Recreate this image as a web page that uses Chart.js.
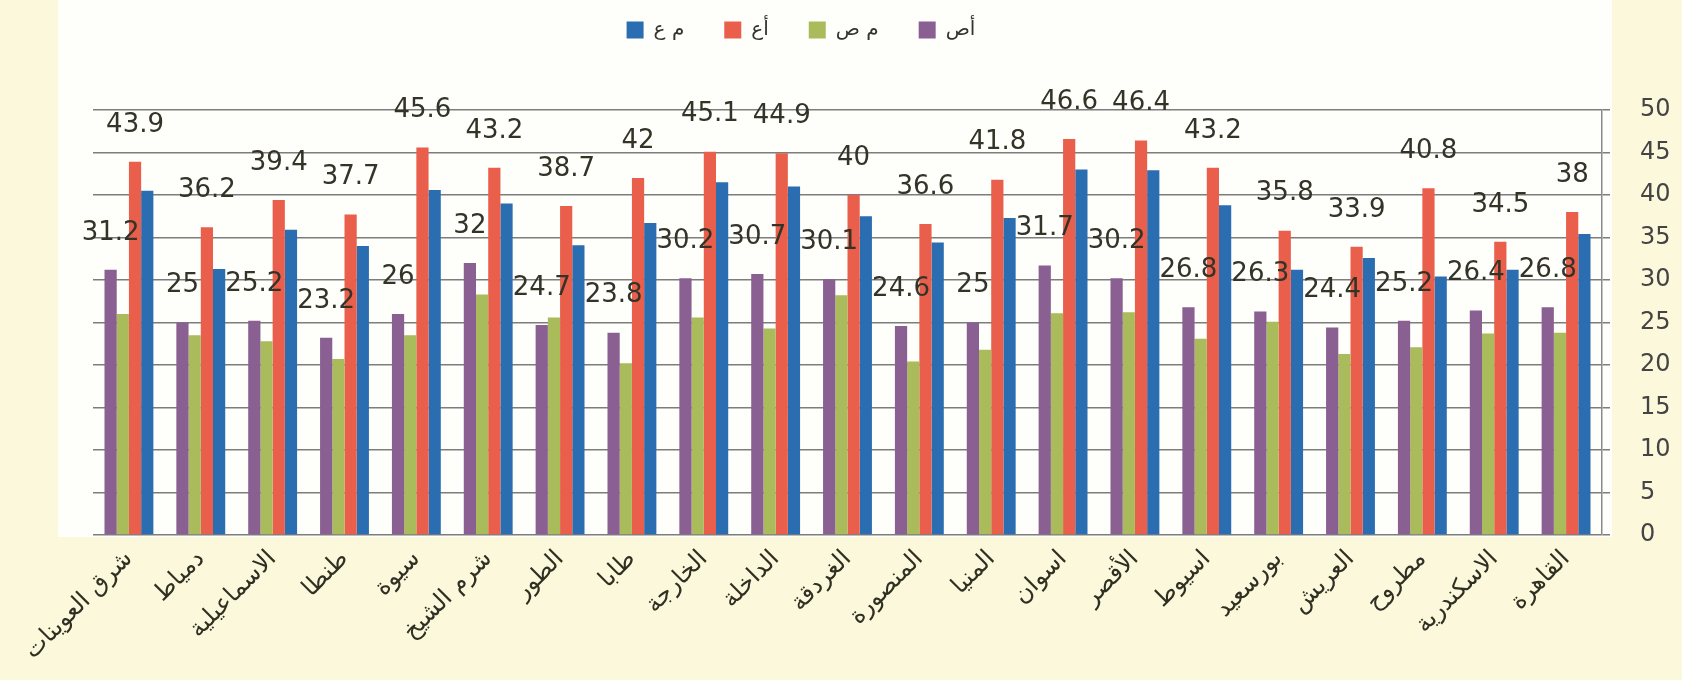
<!DOCTYPE html>
<html lang="ar">
<head>
<meta charset="utf-8">
<title>Chart</title>
<script src="https://cdn.jsdelivr.net/npm/chart.js@4.4.1/dist/chart.umd.min.js"></script>
<style>
  html, body { margin: 0; padding: 0; background: #fbf8dc; overflow: hidden; }
  #wrap { width: 1682px; height: 680px; position: relative; }
</style>
</head>
<body>
<div id="wrap"><canvas id="stationChart"></canvas></div>
<script>
// categories, left to right as in the picture
const stations = [
  'شرق العوينات', 'دمياط', 'الاسماعيلية', 'طنطا', 'سيوة', 'شرم الشيخ', 'الطور',
  'طابا', 'الخارجة', 'الداخلة', 'الغردقة', 'المنصورة', 'المنيا', 'اسوان',
  'الأقصر', 'اسيوط', 'بورسعيد', 'العريش', 'مطروح', 'الاسكندرية', 'القاهرة'
];

// series (names as in the legend)
const seriesNames = ['أص', 'م ص', 'أع', 'م ع'];

const aSad = [31.2, 25, 25.2, 23.2, 26, 32, 24.7, 23.8, 30.2, 30.7, 30.1, 24.6, 25, 31.7, 30.2, 26.8, 26.3, 24.4, 25.2, 26.4, 26.8];
const mSad = [26.0, 23.5, 22.8, 20.7, 23.5, 28.3, 25.6, 20.2, 25.6, 24.3, 28.2, 20.4, 21.8, 26.1, 26.2, 23.1, 25.1, 21.3, 22.1, 23.7, 23.8];
const aAin = [43.9, 36.2, 39.4, 37.7, 45.6, 43.2, 38.7, 42, 45.1, 44.9, 40, 36.6, 41.8, 46.6, 46.4, 43.2, 35.8, 33.9, 40.8, 34.5, 38];
const mAin = [40.5, 31.3, 35.9, 34.0, 40.6, 39.0, 34.1, 36.7, 41.5, 41.0, 37.5, 34.4, 37.3, 43.0, 42.9, 38.8, 31.2, 32.6, 30.4, 31.2, 35.4];

// y axis ticks
const yMin = 0;
const yMax = 50;
const yStep = 5;

const colors = ['#8a5f92', '#a9bb5a', '#ea5f4b', '#2a6db0'];

// only these series carry value labels in the original
const labelledSeries = [0, 2];

// paper-ish background, whiter behind the plot
const backgroundPlugin = {
  id: 'paper',
  beforeDraw(chart) {
    const { ctx, chartArea } = chart;
    ctx.save();
    ctx.fillStyle = '#fbf8dc';
    ctx.fillRect(0, 0, chart.width, chart.height);
    ctx.fillStyle = '#fefefb';
    ctx.fillRect(chartArea.left - 35, 0, chartArea.right - chartArea.left + 45, chartArea.bottom + 2);
    ctx.restore();
  }
};

// legend: sit high and a little left of centre, with a gap below it
const legendPlacer = {
  id: 'legendPlacer',
  beforeInit(chart) {
    const legend = chart.legend;
    const fit = legend.fit;
    legend.fit = function() {
      fit.call(this);
      this.height = 110;
    };
    const draw = legend.draw;
    legend.draw = function() {
      const saved = [this.left, this.right, this.top];
      this.left = 0;
      this.right = chart.width - 80;
      this.top = -20;
      draw.call(this);
      [this.left, this.right, this.top] = saved;
    };
  }
};

// value labels floating above the bars
const valueLabels = {
  id: 'valueLabels',
  afterDatasetsDraw(chart) {
    const ctx = chart.ctx;
    ctx.save();
    ctx.font = '26px "DejaVu Sans", sans-serif';
    ctx.fillStyle = '#333328';
    ctx.textAlign = 'center';
    ctx.textBaseline = 'bottom';
    labelledSeries.forEach(i => {
      const meta = chart.getDatasetMeta(i);
      meta.data.forEach((bar, j) => {
        ctx.fillText(String(chart.data.datasets[i].data[j]), bar.x, bar.y - 24);
      });
    });
    ctx.restore();
  }
};

const datasets = [aSad, mSad, aAin, mAin].map((values, i) => ({
  label: seriesNames[i],
  data: values,
  backgroundColor: colors[i],
  borderWidth: 0,
  barPercentage: 1.0,
  categoryPercentage: 0.68
}));

const ctx = document.getElementById('stationChart').getContext('2d');
new Chart(ctx, {
  type: 'bar',
  data: { labels: stations, datasets: datasets },
  plugins: [backgroundPlugin, legendPlacer, valueLabels],
  options: {
    responsive: true,
    maintainAspectRatio: false,
    animation: false,
    layout: { padding: { top: 0, left: 93, right: 0, bottom: 0 } },
    plugins: {
      tooltip: { enabled: false },
      legend: {
        position: 'top',
        reverse: true,
        labels: {
          font: { family: '"DejaVu Sans", sans-serif', size: 20 },
          color: '#333',
          boxWidth: 17,
          boxHeight: 17,
          padding: 40
        }
      }
    },
    scales: {
      x: {
        grid: { display: false },
        border: { display: false },
        afterFit(scale) { scale.height = 145; },
        ticks: {
          minRotation: 45,
          maxRotation: 45,
          autoSkip: false,
          padding: 2,
          color: '#2f2f22',
          font: { family: '"DejaVu Sans", sans-serif', size: 24 }
        }
      },
      y: {
        position: 'right',
        min: yMin,
        max: yMax,
        afterFit(scale) { scale.width = 80; },
        border: { display: true, color: '#8a8a8a', width: 1.5 },
        grid: { color: '#7d7d7d', lineWidth: 1.5, tickLength: 8 },
        ticks: {
          stepSize: yStep,
          padding: 30,
          color: '#444',
          font: { family: '"DejaVu Sans", sans-serif', size: 24 }
        }
      }
    }
  }
});
</script>
</body>
</html>
